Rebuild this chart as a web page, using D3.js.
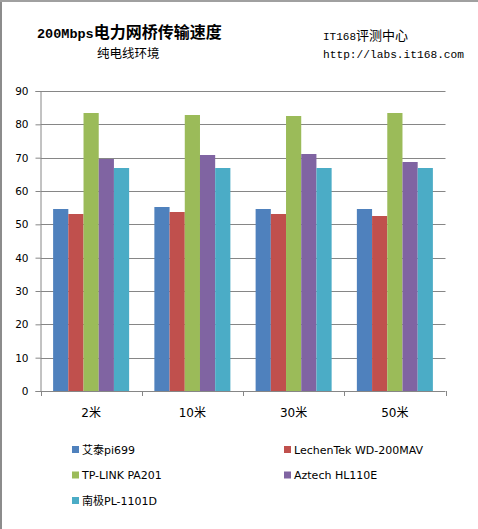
<!DOCTYPE html>
<html><head><meta charset="utf-8">
<script src="https://cdn.jsdelivr.net/npm/d3@7/dist/d3.min.js"></script>
<style>body{margin:0;background:#fff}svg{display:block}</style>
</head><body>
<svg id="c" width="478" height="529"></svg>
<script>
const categories = ["2米", "10米", "30米", "50米"];
const seriesNames = ["艾泰pi699", "LechenTek WD-200MAV", "TP-LINK PA201", "Aztech HL110E", "南极PL-1101D"];
const seriesColors = ["#4F81BD", "#C0504D", "#9BBB59", "#8064A2", "#4BACC6"];
const aitai = [54.6, 55.2, 54.6, 54.6];
const lechen = [53.1, 53.7, 53.1, 52.5];
const tplink = [83.4, 82.8, 82.5, 83.4];
const aztech = [69.6, 70.8, 71.1, 68.7];
const nanji = [66.9, 66.9, 66.9, 66.9];
const yTicks = [0, 10, 20, 30, 40, 50, 60, 70, 80, 90];

const seriesValues = [aitai, lechen, tplink, aztech, nanji];
const svg = d3.select("#c");
const L = 40.5, R = 445.5, T = 91, B = 391;

// chart border (left/top)
svg.append("line").attr("x1",1).attr("x2",1).attr("y1",0).attr("y2",529).attr("stroke","#8c8c8c").attr("stroke-width",2);
svg.append("line").attr("x1",0).attr("x2",478).attr("y1",1).attr("y2",1).attr("stroke","#a0a0a0").attr("stroke-width",2);

// titles
const t1 = svg.append("text").attr("x",37).attr("y",38).attr("font-weight","bold");
t1.append("tspan").attr("font-family","Liberation Mono, monospace").attr("font-size","13.5px").text("200Mbps");
t1.append("tspan").attr("font-family","Noto Sans CJK SC").attr("font-size","16px").text("电力网桥传输速度");
svg.append("text").attr("x",97).attr("y",57.5).attr("font-family","Noto Sans CJK SC").attr("font-size","12.5px").text("纯电线环境");
const t3 = svg.append("text").attr("x",323).attr("y",40);
t3.append("tspan").attr("font-family","Liberation Mono, monospace").attr("font-size","11px").text("IT168");
t3.append("tspan").attr("font-family","Noto Sans CJK SC").attr("font-size","13px").text("评测中心");
svg.append("text").attr("x",323).attr("y",58).attr("font-family","Liberation Mono, monospace").attr("font-size","11.2px").text("http://labs.it168.com");

const y = d3.scaleLinear().domain([0, 90]).range([B, T]);
const x0 = d3.scaleBand().domain(categories).range([L, R]).padding(0);
const x1 = d3.scaleBand().domain(d3.range(seriesNames.length)).range([0, x0.bandwidth()]).paddingInner(0).paddingOuter(0.83);

// gridlines
svg.append("g").selectAll("line").data(yTicks.filter(d=>d>0)).join("line")
  .attr("x1", L).attr("x2", R).attr("y1", d=>Math.round(y(d))+0.5).attr("y2", d=>Math.round(y(d))+0.5)
  .attr("stroke", "#868686").attr("stroke-width", 1);

// bars
const groups = svg.append("g").selectAll("g").data(categories).join("g")
  .attr("transform", d=>`translate(${x0(d)},0)`);
groups.selectAll("rect").data((c,ci)=>seriesValues.map((s,si)=>({si, v:s[ci]}))).join("rect")
  .attr("x", d=>x1(d.si)).attr("width", x1.bandwidth())
  .attr("y", d=>y(d.v)).attr("height", d=>B - y(d.v))
  .attr("fill", d=>seriesColors[d.si]);

// y axis
const ya = svg.append("g").attr("transform", `translate(${L},0)`)
  .call(d3.axisLeft(y).tickValues(yTicks).tickSize(5).tickPadding(7));
ya.select(".domain").attr("stroke","#868686");
ya.selectAll(".tick line").attr("stroke","#868686");
ya.selectAll(".tick text").attr("font-family","DejaVu Sans, Verdana, sans-serif").attr("font-size","10.5px").attr("fill","#000");

// x axis
const xa = svg.append("g").attr("transform", `translate(0,${B})`)
  .call(d3.axisBottom(x0).tickSize(0).tickPadding(17));
xa.select(".domain").attr("stroke","#868686").attr("d", `M${L},0.5H${R}`);
xa.selectAll(".tick text").attr("font-family","DejaVu Sans, Noto Sans CJK SC, sans-serif").attr("font-size","12px").attr("fill","#000");
svg.append("g").selectAll("line").data(d3.range(categories.length+1)).join("line")
  .attr("x1", i=>Math.round(L + i*x0.step())+0.5).attr("x2", i=>Math.round(L + i*x0.step())+0.5)
  .attr("y1", B).attr("y2", B+5).attr("stroke","#868686");

// legend
const legPos = [[72,449.5],[284,449.5],[72,475],[284,475],[72,500.5]];
const leg = svg.append("g").selectAll("g").data(seriesNames).join("g")
  .attr("transform", (d,i)=>`translate(${legPos[i][0]},${legPos[i][1]})`);
leg.append("rect").attr("x",0).attr("y",-3.5).attr("width",7).attr("height",7).attr("fill",(d,i)=>seriesColors[i]);
leg.append("text").attr("x",10).attr("y",4).attr("font-family","DejaVu Sans, Noto Sans CJK SC, sans-serif").attr("font-size","11px").attr("fill","#000").text(d=>d);
</script>
</body></html>
